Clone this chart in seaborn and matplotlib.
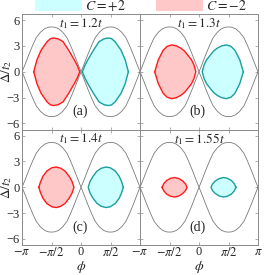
import numpy as np
import pandas as pd
import matplotlib
matplotlib.use("Agg")
import matplotlib.pyplot as plt
from matplotlib.patches import Patch
import seaborn as sns

# ---------------- data ----------------
panel_labels = ["(a)", "(b)", "(c)", "(d)"]
t1_values = ["1.2", "1.3", "1.4", "1.55"]

# outer gray boundary, upper branch (phi, Delta/t2)
gray_phi = [-3.14, -2.96, -2.78, -2.57, -2.39, -2.16, -1.94, -1.74, -1.57,
            -1.40, -1.20, -0.98, -0.75, -0.57, -0.36, -0.18, 0.0,
            0.18, 0.36, 0.57, 0.75, 0.98, 1.20, 1.40, 1.57,
            1.74, 1.94, 2.16, 2.39, 2.57, 2.78, 2.96, 3.14]
gray_delta = [0.0, 0.98, 2.0, 3.1, 3.95, 4.6, 5.0, 5.17, 5.2,
              5.17, 5.0, 4.6, 3.95, 3.1, 2.0, 0.98, 0.0,
              0.98, 2.0, 3.1, 3.95, 4.6, 5.0, 5.17, 5.2,
              5.17, 5.0, 4.6, 3.95, 3.1, 2.0, 0.98, 0.0]

# C = -2 region (red), upper boundary for each panel; C = +2 region is its mirror
red_phi_a = [-2.52, -2.35, -2.13, -1.81, -1.62, -1.46, -1.22, -0.96, -0.66, -0.36, -0.20, -0.07]
red_delta_a = [0.0, 1.38, 2.5, 3.5, 3.85, 3.92, 3.82, 3.5, 2.5, 1.38, 0.72, 0.0]

red_phi_b = [-2.36, -2.17, -1.91, -1.70, -1.46, -1.20, -0.98, -0.78, -0.55, -0.40, -0.27, -0.17]
red_delta_b = [0.0, 1.38, 2.5, 2.95, 3.12, 3.0, 2.75, 2.42, 1.8, 1.38, 0.8, 0.0]

red_phi_c = [-2.25, -2.16, -2.03, -1.82, -1.55, -1.32, -1.07, -0.84, -0.63, -0.48, -0.38]
red_delta_c = [0.0, 0.63, 1.28, 1.89, 2.27, 2.35, 2.2, 1.85, 1.25, 0.68, 0.0]

red_phi_d = [-1.97, -1.87, -1.72, -1.50, -1.30, -1.07, -0.86, -0.71, -0.64]
red_delta_d = [0.0, 0.44, 0.8, 1.05, 1.13, 1.01, 0.71, 0.36, 0.0]

red_phi = [red_phi_a, red_phi_b, red_phi_c, red_phi_d]
red_delta = [red_delta_a, red_delta_b, red_delta_c, red_delta_d]

x_ticks = [-np.pi, -np.pi / 2, 0, np.pi / 2, np.pi]
x_ticklabels = [r"$-\pi$", r"$-\pi/2$", "0", r"$\pi/2$", r"$\pi$"]
y_ticks = [6, 3, 0, -3, -6]
y_ticklabels = ["6", "3", "0", "\u22123", "\u22126"]

legend_labels = [r"$C=+2$", r"$C=-2$"]

# ---------------- style ----------------
sns.set_theme(style="ticks")
plt.rcParams["font.family"] = ["Liberation Serif", "DejaVu Serif"]
plt.rcParams["mathtext.fontset"] = "stix"
plt.rcParams["axes.unicode_minus"] = True

RED_LINE = "#ff1a1a"
RED_FILL = "#ffc8c8"
CY_LINE = "#1a9e9e"
CY_FILL = "#ccffff"
GRAY = "#7a7a7a"
FRAME = "#8a8a8a"

fig = plt.figure(figsize=(2.66, 2.75), dpi=100)
gs = fig.add_gridspec(2, 2, left=0.083, right=0.970, top=0.949, bottom=0.109,
                      wspace=0, hspace=0)

for i in range(4):
    r, c = divmod(i, 2)
    ax = fig.add_subplot(gs[r, c])

    # closed polygons
    pr = list(red_phi[i]) + list(red_phi[i])[::-1]
    dr = list(red_delta[i]) + [-v for v in red_delta[i]][::-1]
    pc = [-v for v in pr]
    ax.fill(pr, dr, color=RED_FILL, lw=0, zorder=1)
    ax.fill(pc, dr, color=CY_FILL, lw=0, zorder=1)

    df_gray_up = pd.DataFrame({"phi": gray_phi, "delta": gray_delta})
    df_gray_dn = pd.DataFrame({"phi": gray_phi, "delta": [-v for v in gray_delta]})
    for d in (df_gray_up, df_gray_dn):
        sns.lineplot(data=d, x="phi", y="delta", sort=False, estimator=None,
                     color=GRAY, lw=0.6, ax=ax, zorder=2)

    sns.lineplot(data=pd.DataFrame({"phi": pr, "delta": dr}), x="phi", y="delta",
                 sort=False, estimator=None, color=RED_LINE, lw=1.0, ax=ax, zorder=3)
    sns.lineplot(data=pd.DataFrame({"phi": pc, "delta": dr}), x="phi", y="delta",
                 sort=False, estimator=None, color=CY_LINE, lw=1.0, ax=ax, zorder=3)

    ax.set_xlim(-np.pi, np.pi)
    ax.set_ylim(-6.7, 6.7)
    ax.set_xticks(x_ticks)
    ax.set_yticks(y_ticks)
    ax.tick_params(direction="in", length=2.5, width=0.5, color=FRAME,
                   top=True, right=True, labelsize=9, pad=2)
    ax.tick_params(axis="x", pad=1)
    for s in ax.spines.values():
        s.set_color(FRAME)
        s.set_linewidth(0.7)

    if r == 1:
        labels = list(x_ticklabels)
        if c == 0:
            labels[-1] = ""
        ax.set_xticklabels(labels)
        ax.set_xlabel(r"$\phi$", fontsize=10)
        ax.xaxis.set_label_coords(0.5, -0.12)
    else:
        ax.set_xticklabels([])
        ax.set_xlabel("")
    if c == 0:
        ax.set_yticklabels(y_ticklabels)
        ax.set_ylabel(r"$\Delta/t_2$", fontsize=9.5)
        ax.yaxis.set_label_coords(-0.066, 0.5)
    else:
        ax.set_yticklabels([])
        ax.set_ylabel("")

    ax.text(0.5, 0.985, r"$t_1=" + t1_values[i] + r"t$", transform=ax.transAxes,
            ha="center", va="top", fontsize=9.5)
    ax.text(0.49, 0.155, panel_labels[i], transform=ax.transAxes,
            ha="center", va="center", fontsize=10)

handles = [Patch(facecolor=CY_FILL, edgecolor="none"),
           Patch(facecolor=RED_FILL, edgecolor="none")]
fig.legend(handles, legend_labels, loc="upper center", bbox_to_anchor=(0.53, 1.025),
           ncol=2, frameon=False, fontsize=10, handlelength=3.4, handleheight=0.9,
           handletextpad=0.2, columnspacing=2.2, borderaxespad=0)

fig.savefig("out.png", dpi=100)
